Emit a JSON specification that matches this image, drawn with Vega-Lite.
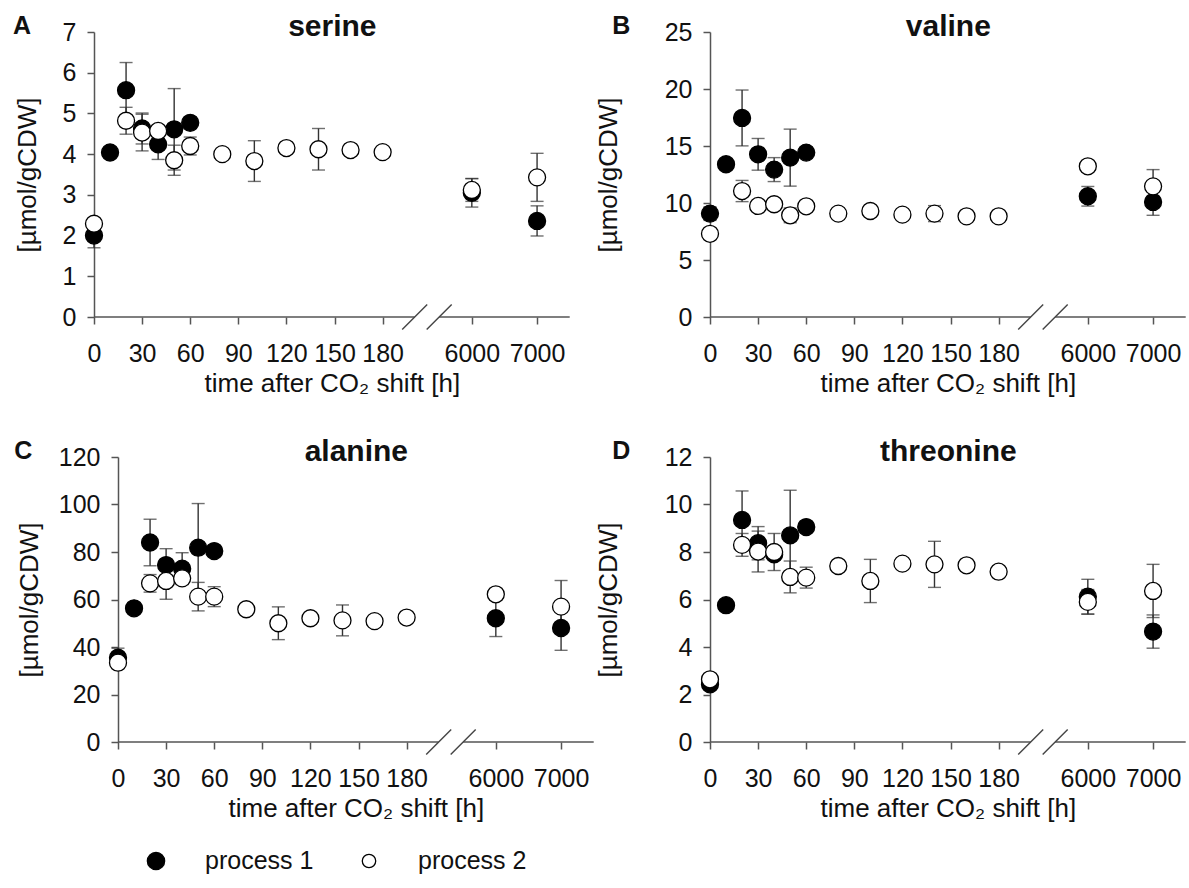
{
  "$schema": "https://vega.github.io/schema/vega-lite/v6.json",
  "background": "white",
  "padding": {"left": 13, "top": 11, "right": 4, "bottom": 4},
  "config": {
    "font": "Liberation Sans",
    "view": {"stroke": null},
    "axis": {"labelFont": "Liberation Sans", "titleFont": "Liberation Sans", "labelFontSize": 25, "titleFontSize": 26, "labelColor": "#111", "titleColor": "#111", "titleFontWeight": "normal", "domainColor": "#555", "tickColor": "#555", "domainWidth": 1.5, "tickWidth": 1.5, "tickSize": 7, "grid": false, "labelPadding": 11, "titlePadding": 16},
    "title": {"font": "Liberation Sans", "color": "#111"}
  },
  "datasets": {
    "amino": [
      {"aa": "serine", "proc": "process 1", "t": 0, "v": 2.0, "e": 0.3},
      {"aa": "serine", "proc": "process 1", "t": 10, "v": 4.04},
      {"aa": "serine", "proc": "process 1", "t": 20, "v": 5.57, "e": 0.68},
      {"aa": "serine", "proc": "process 1", "t": 30, "v": 4.63, "e": 0.38},
      {"aa": "serine", "proc": "process 1", "t": 40, "v": 4.24, "e": 0.37},
      {"aa": "serine", "proc": "process 1", "t": 50, "v": 4.61, "e": 1.0},
      {"aa": "serine", "proc": "process 1", "t": 60, "v": 4.77},
      {"aa": "serine", "proc": "process 1", "t": 6000, "v": 3.05, "e": 0.35},
      {"aa": "serine", "proc": "process 1", "t": 7000, "v": 2.36, "e": 0.37},
      {"aa": "serine", "proc": "process 2", "t": 0, "v": 2.29},
      {"aa": "serine", "proc": "process 2", "t": 20, "v": 4.82, "e": 0.33},
      {"aa": "serine", "proc": "process 2", "t": 30, "v": 4.53, "e": 0.45},
      {"aa": "serine", "proc": "process 2", "t": 40, "v": 4.57},
      {"aa": "serine", "proc": "process 2", "t": 50, "v": 3.85, "e": 0.37},
      {"aa": "serine", "proc": "process 2", "t": 60, "v": 4.2, "e": 0.22},
      {"aa": "serine", "proc": "process 2", "t": 80, "v": 4.0},
      {"aa": "serine", "proc": "process 2", "t": 100, "v": 3.83, "e": 0.5},
      {"aa": "serine", "proc": "process 2", "t": 120, "v": 4.15},
      {"aa": "serine", "proc": "process 2", "t": 140, "v": 4.12, "e": 0.51},
      {"aa": "serine", "proc": "process 2", "t": 160, "v": 4.1},
      {"aa": "serine", "proc": "process 2", "t": 180, "v": 4.05},
      {"aa": "serine", "proc": "process 2", "t": 6000, "v": 3.12, "e": 0.28},
      {"aa": "serine", "proc": "process 2", "t": 7000, "v": 3.43, "e": 0.59},

      {"aa": "valine", "proc": "process 1", "t": 0, "v": 9.07, "e": 0.6},
      {"aa": "valine", "proc": "process 1", "t": 10, "v": 13.4},
      {"aa": "valine", "proc": "process 1", "t": 20, "v": 17.46, "e": 2.45},
      {"aa": "valine", "proc": "process 1", "t": 30, "v": 14.27, "e": 1.39},
      {"aa": "valine", "proc": "process 1", "t": 40, "v": 12.93, "e": 1.05},
      {"aa": "valine", "proc": "process 1", "t": 50, "v": 13.98, "e": 2.5},
      {"aa": "valine", "proc": "process 1", "t": 60, "v": 14.42},
      {"aa": "valine", "proc": "process 1", "t": 6000, "v": 10.59, "e": 0.86},
      {"aa": "valine", "proc": "process 1", "t": 7000, "v": 10.09, "e": 1.17},
      {"aa": "valine", "proc": "process 2", "t": 0, "v": 7.3},
      {"aa": "valine", "proc": "process 2", "t": 20, "v": 11.05, "e": 0.93},
      {"aa": "valine", "proc": "process 2", "t": 30, "v": 9.74},
      {"aa": "valine", "proc": "process 2", "t": 40, "v": 9.89},
      {"aa": "valine", "proc": "process 2", "t": 50, "v": 8.92, "e": 0.65},
      {"aa": "valine", "proc": "process 2", "t": 60, "v": 9.71},
      {"aa": "valine", "proc": "process 2", "t": 80, "v": 9.07},
      {"aa": "valine", "proc": "process 2", "t": 100, "v": 9.3},
      {"aa": "valine", "proc": "process 2", "t": 120, "v": 8.98},
      {"aa": "valine", "proc": "process 2", "t": 140, "v": 9.07, "e": 0.7},
      {"aa": "valine", "proc": "process 2", "t": 160, "v": 8.83},
      {"aa": "valine", "proc": "process 2", "t": 180, "v": 8.83},
      {"aa": "valine", "proc": "process 2", "t": 6000, "v": 13.22},
      {"aa": "valine", "proc": "process 2", "t": 7000, "v": 11.46, "e": 1.47},

      {"aa": "alanine", "proc": "process 1", "t": 0, "v": 35.5, "e": 4},
      {"aa": "alanine", "proc": "process 1", "t": 10, "v": 56.3},
      {"aa": "alanine", "proc": "process 1", "t": 20, "v": 84.0, "e": 9.8},
      {"aa": "alanine", "proc": "process 1", "t": 30, "v": 74.5, "e": 6.9},
      {"aa": "alanine", "proc": "process 1", "t": 40, "v": 73.0, "e": 6.7},
      {"aa": "alanine", "proc": "process 1", "t": 50, "v": 81.8, "e": 18.6},
      {"aa": "alanine", "proc": "process 1", "t": 60, "v": 80.4},
      {"aa": "alanine", "proc": "process 1", "t": 6000, "v": 52.1, "e": 7.7},
      {"aa": "alanine", "proc": "process 1", "t": 7000, "v": 48.0, "e": 9.4},
      {"aa": "alanine", "proc": "process 2", "t": 0, "v": 33.4},
      {"aa": "alanine", "proc": "process 2", "t": 20, "v": 66.8, "e": 3.7},
      {"aa": "alanine", "proc": "process 2", "t": 30, "v": 67.8, "e": 7.7},
      {"aa": "alanine", "proc": "process 2", "t": 40, "v": 68.9},
      {"aa": "alanine", "proc": "process 2", "t": 50, "v": 61.2, "e": 6.0},
      {"aa": "alanine", "proc": "process 2", "t": 60, "v": 61.2, "e": 4.2},
      {"aa": "alanine", "proc": "process 2", "t": 80, "v": 55.9},
      {"aa": "alanine", "proc": "process 2", "t": 100, "v": 50.0, "e": 6.9},
      {"aa": "alanine", "proc": "process 2", "t": 120, "v": 52.1},
      {"aa": "alanine", "proc": "process 2", "t": 140, "v": 51.2, "e": 6.5},
      {"aa": "alanine", "proc": "process 2", "t": 160, "v": 50.9},
      {"aa": "alanine", "proc": "process 2", "t": 180, "v": 52.4},
      {"aa": "alanine", "proc": "process 2", "t": 6000, "v": 62.2},
      {"aa": "alanine", "proc": "process 2", "t": 7000, "v": 57.0, "e": 11},

      {"aa": "threonine", "proc": "process 1", "t": 0, "v": 2.43, "e": 0.2},
      {"aa": "threonine", "proc": "process 1", "t": 10, "v": 5.76},
      {"aa": "threonine", "proc": "process 1", "t": 20, "v": 9.35, "e": 1.22},
      {"aa": "threonine", "proc": "process 1", "t": 30, "v": 8.37, "e": 0.7},
      {"aa": "threonine", "proc": "process 1", "t": 40, "v": 7.9},
      {"aa": "threonine", "proc": "process 1", "t": 50, "v": 8.7, "e": 1.9},
      {"aa": "threonine", "proc": "process 1", "t": 60, "v": 9.05},
      {"aa": "threonine", "proc": "process 1", "t": 6000, "v": 6.12, "e": 0.73},
      {"aa": "threonine", "proc": "process 1", "t": 7000, "v": 4.65, "e": 0.7},
      {"aa": "threonine", "proc": "process 2", "t": 0, "v": 2.64},
      {"aa": "threonine", "proc": "process 2", "t": 20, "v": 8.3, "e": 0.48},
      {"aa": "threonine", "proc": "process 2", "t": 30, "v": 8.02, "e": 0.86},
      {"aa": "threonine", "proc": "process 2", "t": 40, "v": 8.0, "e": 0.78},
      {"aa": "threonine", "proc": "process 2", "t": 50, "v": 6.95, "e": 0.67},
      {"aa": "threonine", "proc": "process 2", "t": 60, "v": 6.92, "e": 0.44},
      {"aa": "threonine", "proc": "process 2", "t": 80, "v": 7.41},
      {"aa": "threonine", "proc": "process 2", "t": 100, "v": 6.78, "e": 0.91},
      {"aa": "threonine", "proc": "process 2", "t": 120, "v": 7.51},
      {"aa": "threonine", "proc": "process 2", "t": 140, "v": 7.48, "e": 0.97},
      {"aa": "threonine", "proc": "process 2", "t": 160, "v": 7.44},
      {"aa": "threonine", "proc": "process 2", "t": 180, "v": 7.17},
      {"aa": "threonine", "proc": "process 2", "t": 6000, "v": 5.9, "e": 0.52},
      {"aa": "threonine", "proc": "process 2", "t": 7000, "v": 6.36, "e": 1.12}
    ]
  },
  "spacing": 25,
  "vconcat": [
    {
      "spacing": 40,
      "vconcat": [
        {
          "spacing": 24,
          "hconcat": [
            {
              "title": {"text": "A", "anchor": "start", "frame": "bounds", "fontSize": 25, "fontWeight": "bold", "dy": 32, "dx": -1},
              "width": 476, "height": 285,
              "resolve": {"axis": {"x": "independent", "y": "independent"}},
              "layer": [
                {"data": {"name": "amino"}, "transform": [{"filter": "datum.aa === 'serine' && datum.e > 0"}],
                 "mark": {"type": "errorbar", "ticks": {"size": 13, "thickness": 1.4, "color": "#333"}, "rule": {"strokeWidth": 1.4, "color": "#333"}},
                 "encoding": {
                   "x": {"field": "t", "type": "quantitative", "scale": {"type": "linear", "domain": [0, 200, 5500, 7500], "range": [0, 320.7, 345.2, 475.7], "nice": false, "zero": false}, "axis": null},
                   "y": {"field": "v", "type": "quantitative", "scale": {"domain": [0, 7], "nice": false}, "axis": null},
                   "yError": {"field": "e"}}},
                {"data": {"name": "amino"}, "transform": [{"filter": "datum.aa === 'serine'"}],
                 "mark": {"type": "point", "shape": "circle", "filled": true, "size": 289, "stroke": "black", "strokeWidth": 1.3, "opacity": 1},
                 "encoding": {
                   "x": {"field": "t", "type": "quantitative", "scale": {"type": "linear", "domain": [0, 200, 5500, 7500], "range": [0, 320.7, 345.2, 475.7], "nice": false, "zero": false},
                         "axis": {"values": [0, 30, 60, 90, 120, 150, 180, 6000, 7000], "format": "d", "title": "time after CO₂ shift [h]", "domain": false, "labelFlush": false, "labelOverlap": false, "labelPadding": 17, "titlePadding": 4}},
                   "y": {"field": "v", "type": "quantitative", "scale": {"domain": [0, 7], "nice": false}, "axis": {"title": "[µmol/gCDW]", "format": "d", "tickCount": 7, "titlePadding": 22}},
                   "fill": {"field": "proc", "type": "nominal", "scale": {"domain": ["process 1", "process 2"], "range": ["black", "white"]}, "legend": null}}},
                {"data": {"values": [{}]}, "mark": {"type": "rule", "color": "#555", "strokeWidth": 1.5},
                 "encoding": {"x": {"datum": 0, "type": "quantitative", "axis": null}, "x2": {"datum": 200}, "y": {"datum": 0, "type": "quantitative", "axis": null}}},
                {"data": {"values": [{}]}, "mark": {"type": "rule", "color": "#555", "strokeWidth": 1.5},
                 "encoding": {"x": {"datum": 5500, "type": "quantitative", "axis": null}, "x2": {"datum": 7500}, "y": {"datum": 0, "type": "quantitative", "axis": null}}},
                {"data": {"values": [{}]}, "mark": {"type": "point", "shape": "M-1,1L1,-1", "size": 625, "filled": false, "stroke": "#444", "strokeWidth": 1.4, "opacity": 1},
                 "encoding": {"x": {"datum": 200, "type": "quantitative", "axis": {"orient": "top", "title": "serine", "labels": false, "ticks": false, "domain": false, "titleFontSize": 30, "titleFontWeight": "bold", "titleColor": "#111", "titleBaseline": "alphabetic", "titleY": 3}},
                              "y": {"datum": 0, "type": "quantitative", "axis": null}}},
                {"data": {"values": [{}]}, "mark": {"type": "point", "shape": "M-1,1L1,-1", "size": 625, "filled": false, "stroke": "#444", "strokeWidth": 1.4, "opacity": 1},
                 "encoding": {"x": {"datum": 5500, "type": "quantitative", "axis": null}, "y": {"datum": 0, "type": "quantitative", "axis": null}}}
              ]
            },
            {
              "title": {"text": "B", "anchor": "start", "frame": "bounds", "fontSize": 25, "fontWeight": "bold", "dy": 32, "dx": 17},
              "width": 476, "height": 285,
              "resolve": {"axis": {"x": "independent", "y": "independent"}},
              "layer": [
                {"data": {"name": "amino"}, "transform": [{"filter": "datum.aa === 'valine' && datum.e > 0"}],
                 "mark": {"type": "errorbar", "ticks": {"size": 13, "thickness": 1.4, "color": "#333"}, "rule": {"strokeWidth": 1.4, "color": "#333"}},
                 "encoding": {
                   "x": {"field": "t", "type": "quantitative", "scale": {"type": "linear", "domain": [0, 200, 5500, 7500], "range": [0, 320.7, 345.2, 475.7], "nice": false, "zero": false}, "axis": null},
                   "y": {"field": "v", "type": "quantitative", "scale": {"domain": [0, 25], "nice": false}, "axis": null},
                   "yError": {"field": "e"}}},
                {"data": {"name": "amino"}, "transform": [{"filter": "datum.aa === 'valine'"}],
                 "mark": {"type": "point", "shape": "circle", "filled": true, "size": 289, "stroke": "black", "strokeWidth": 1.3, "opacity": 1},
                 "encoding": {
                   "x": {"field": "t", "type": "quantitative", "scale": {"type": "linear", "domain": [0, 200, 5500, 7500], "range": [0, 320.7, 345.2, 475.7], "nice": false, "zero": false},
                         "axis": {"values": [0, 30, 60, 90, 120, 150, 180, 6000, 7000], "format": "d", "title": "time after CO₂ shift [h]", "domain": false, "labelFlush": false, "labelOverlap": false, "labelPadding": 17, "titlePadding": 4}},
                   "y": {"field": "v", "type": "quantitative", "scale": {"domain": [0, 25], "nice": false}, "axis": {"title": "[µmol/gCDW]", "format": "d", "tickCount": 5, "titlePadding": 43}},
                   "fill": {"field": "proc", "type": "nominal", "scale": {"domain": ["process 1", "process 2"], "range": ["black", "white"]}, "legend": null}}},
                {"data": {"values": [{}]}, "mark": {"type": "rule", "color": "#555", "strokeWidth": 1.5},
                 "encoding": {"x": {"datum": 0, "type": "quantitative", "axis": null}, "x2": {"datum": 200}, "y": {"datum": 0, "type": "quantitative", "axis": null}}},
                {"data": {"values": [{}]}, "mark": {"type": "rule", "color": "#555", "strokeWidth": 1.5},
                 "encoding": {"x": {"datum": 5500, "type": "quantitative", "axis": null}, "x2": {"datum": 7500}, "y": {"datum": 0, "type": "quantitative", "axis": null}}},
                {"data": {"values": [{}]}, "mark": {"type": "point", "shape": "M-1,1L1,-1", "size": 625, "filled": false, "stroke": "#444", "strokeWidth": 1.4, "opacity": 1},
                 "encoding": {"x": {"datum": 200, "type": "quantitative", "axis": {"orient": "top", "title": "valine", "labels": false, "ticks": false, "domain": false, "titleFontSize": 30, "titleFontWeight": "bold", "titleColor": "#111", "titleBaseline": "alphabetic", "titleY": 3}},
                              "y": {"datum": 0, "type": "quantitative", "axis": null}}},
                {"data": {"values": [{}]}, "mark": {"type": "point", "shape": "M-1,1L1,-1", "size": 625, "filled": false, "stroke": "#444", "strokeWidth": 1.4, "opacity": 1},
                 "encoding": {"x": {"datum": 5500, "type": "quantitative", "axis": null}, "y": {"datum": 0, "type": "quantitative", "axis": null}}}
              ]
            }
          ]
        },
        {
          "spacing": 0,
          "hconcat": [
            {
              "title": {"text": "C", "anchor": "start", "frame": "bounds", "fontSize": 25, "fontWeight": "bold", "dy": 32, "dx": -2},
              "width": 500, "height": 285,
              "resolve": {"axis": {"x": "independent", "y": "independent"}},
              "layer": [
                {"data": {"name": "amino"}, "transform": [{"filter": "datum.aa === 'alanine' && datum.e > 0"}],
                 "mark": {"type": "errorbar", "ticks": {"size": 13, "thickness": 1.4, "color": "#333"}, "rule": {"strokeWidth": 1.4, "color": "#333"}},
                 "encoding": {
                   "x": {"field": "t", "type": "quantitative", "scale": {"type": "linear", "domain": [0, 200, 5500, 7500], "range": [24, 344.7, 369.2, 499.7], "nice": false, "zero": false}, "axis": null},
                   "y": {"field": "v", "type": "quantitative", "scale": {"domain": [0, 120], "nice": false}, "axis": null},
                   "yError": {"field": "e"}}},
                {"data": {"name": "amino"}, "transform": [{"filter": "datum.aa === 'alanine'"}],
                 "mark": {"type": "point", "shape": "circle", "filled": true, "size": 289, "stroke": "black", "strokeWidth": 1.3, "opacity": 1},
                 "encoding": {
                   "x": {"field": "t", "type": "quantitative", "scale": {"type": "linear", "domain": [0, 200, 5500, 7500], "range": [24, 344.7, 369.2, 499.7], "nice": false, "zero": false},
                         "axis": {"values": [0, 30, 60, 90, 120, 150, 180, 6000, 7000], "format": "d", "title": "time after CO₂ shift [h]", "domain": false, "labelFlush": false, "labelOverlap": false, "labelPadding": 17, "titlePadding": 4}},
                   "y": {"field": "v", "type": "quantitative", "scale": {"domain": [0, 120], "nice": false}, "axis": {"title": "[µmol/gCDW]", "format": "d", "tickCount": 6, "offset": -24}},
                   "fill": {"field": "proc", "type": "nominal", "scale": {"domain": ["process 1", "process 2"], "range": ["black", "white"]}, "legend": null}}},
                {"data": {"values": [{}]}, "mark": {"type": "rule", "color": "#555", "strokeWidth": 1.5},
                 "encoding": {"x": {"datum": 0, "type": "quantitative", "axis": null}, "x2": {"datum": 200}, "y": {"datum": 0, "type": "quantitative", "axis": null}}},
                {"data": {"values": [{}]}, "mark": {"type": "rule", "color": "#555", "strokeWidth": 1.5},
                 "encoding": {"x": {"datum": 5500, "type": "quantitative", "axis": null}, "x2": {"datum": 7500}, "y": {"datum": 0, "type": "quantitative", "axis": null}}},
                {"data": {"values": [{}]}, "mark": {"type": "point", "shape": "M-1,1L1,-1", "size": 625, "filled": false, "stroke": "#444", "strokeWidth": 1.4, "opacity": 1},
                 "encoding": {"x": {"datum": 200, "type": "quantitative", "axis": {"orient": "top", "title": "alanine", "labels": false, "ticks": false, "domain": false, "titleFontSize": 30, "titleFontWeight": "bold", "titleColor": "#111", "titleBaseline": "alphabetic", "titleY": 3}},
                              "y": {"datum": 0, "type": "quantitative", "axis": null}}},
                {"data": {"values": [{}]}, "mark": {"type": "point", "shape": "M-1,1L1,-1", "size": 625, "filled": false, "stroke": "#444", "strokeWidth": 1.4, "opacity": 1},
                 "encoding": {"x": {"datum": 5500, "type": "quantitative", "axis": null}, "y": {"datum": 0, "type": "quantitative", "axis": null}}}
              ]
            },
            {
              "title": {"text": "D", "anchor": "start", "frame": "bounds", "fontSize": 25, "fontWeight": "bold", "dy": 32, "dx": 17},
              "width": 476, "height": 285,
              "resolve": {"axis": {"x": "independent", "y": "independent"}},
              "layer": [
                {"data": {"name": "amino"}, "transform": [{"filter": "datum.aa === 'threonine' && datum.e > 0"}],
                 "mark": {"type": "errorbar", "ticks": {"size": 13, "thickness": 1.4, "color": "#333"}, "rule": {"strokeWidth": 1.4, "color": "#333"}},
                 "encoding": {
                   "x": {"field": "t", "type": "quantitative", "scale": {"type": "linear", "domain": [0, 200, 5500, 7500], "range": [0, 320.7, 345.2, 475.7], "nice": false, "zero": false}, "axis": null},
                   "y": {"field": "v", "type": "quantitative", "scale": {"domain": [0, 12], "nice": false}, "axis": null},
                   "yError": {"field": "e"}}},
                {"data": {"name": "amino"}, "transform": [{"filter": "datum.aa === 'threonine'"}],
                 "mark": {"type": "point", "shape": "circle", "filled": true, "size": 289, "stroke": "black", "strokeWidth": 1.3, "opacity": 1},
                 "encoding": {
                   "x": {"field": "t", "type": "quantitative", "scale": {"type": "linear", "domain": [0, 200, 5500, 7500], "range": [0, 320.7, 345.2, 475.7], "nice": false, "zero": false},
                         "axis": {"values": [0, 30, 60, 90, 120, 150, 180, 6000, 7000], "format": "d", "title": "time after CO₂ shift [h]", "domain": false, "labelFlush": false, "labelOverlap": false, "labelPadding": 17, "titlePadding": 4}},
                   "y": {"field": "v", "type": "quantitative", "scale": {"domain": [0, 12], "nice": false}, "axis": {"title": "[µmol/gCDW]", "format": "d", "tickCount": 6, "titlePadding": 43}},
                   "fill": {"field": "proc", "type": "nominal", "scale": {"domain": ["process 1", "process 2"], "range": ["black", "white"]}, "legend": null}}},
                {"data": {"values": [{}]}, "mark": {"type": "rule", "color": "#555", "strokeWidth": 1.5},
                 "encoding": {"x": {"datum": 0, "type": "quantitative", "axis": null}, "x2": {"datum": 200}, "y": {"datum": 0, "type": "quantitative", "axis": null}}},
                {"data": {"values": [{}]}, "mark": {"type": "rule", "color": "#555", "strokeWidth": 1.5},
                 "encoding": {"x": {"datum": 5500, "type": "quantitative", "axis": null}, "x2": {"datum": 7500}, "y": {"datum": 0, "type": "quantitative", "axis": null}}},
                {"data": {"values": [{}]}, "mark": {"type": "point", "shape": "M-1,1L1,-1", "size": 625, "filled": false, "stroke": "#444", "strokeWidth": 1.4, "opacity": 1},
                 "encoding": {"x": {"datum": 200, "type": "quantitative", "axis": {"orient": "top", "title": "threonine", "labels": false, "ticks": false, "domain": false, "titleFontSize": 30, "titleFontWeight": "bold", "titleColor": "#111", "titleBaseline": "alphabetic", "titleY": 3}},
                              "y": {"datum": 0, "type": "quantitative", "axis": null}}},
                {"data": {"values": [{}]}, "mark": {"type": "point", "shape": "M-1,1L1,-1", "size": 625, "filled": false, "stroke": "#444", "strokeWidth": 1.4, "opacity": 1},
                 "encoding": {"x": {"datum": 5500, "type": "quantitative", "axis": null}, "y": {"datum": 0, "type": "quantitative", "axis": null}}}
              ]
            }
          ]
        }
      ]
    },
    {
      "width": 500, "height": 30,
      "data": {"values": [{"proc": "process 1"}, {"proc": "process 2"}]},
      "layer": [
        {"mark": {"type": "point", "shape": "circle", "filled": true, "stroke": "black", "strokeWidth": 1.3, "opacity": 1},
         "encoding": {
           "x": {"field": "proc", "type": "nominal", "scale": {"type": "point", "range": [62, 275], "padding": 0}, "axis": null},
           "fill": {"field": "proc", "type": "nominal", "scale": {"domain": ["process 1", "process 2"], "range": ["black", "white"]}, "legend": null},
           "size": {"field": "proc", "type": "ordinal", "scale": {"domain": ["process 1", "process 2"], "range": [300, 180]}, "legend": null}}},
        {"mark": {"type": "text", "align": "left", "baseline": "middle", "dx": 49, "fontSize": 25, "color": "#111"},
         "encoding": {
           "x": {"field": "proc", "type": "nominal", "scale": {"type": "point", "range": [62, 275], "padding": 0}, "axis": null},
           "text": {"field": "proc"}}}
      ]
    }
  ]
}
